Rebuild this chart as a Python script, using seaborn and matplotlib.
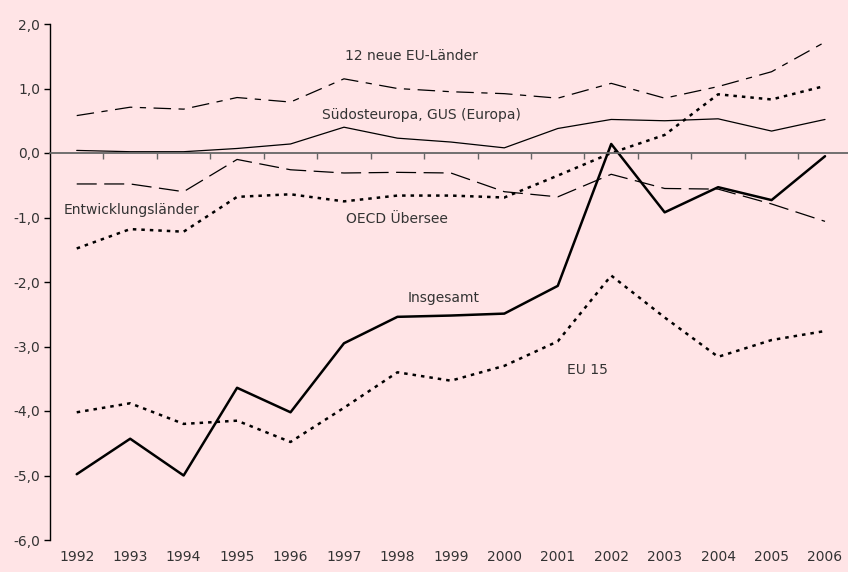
import numpy as np
import pandas as pd
import matplotlib
matplotlib.use("Agg")
import matplotlib.pyplot as plt
import seaborn as sns
from matplotlib.ticker import FuncFormatter, FixedLocator

# Jahre und Reihen
jahre = [str(j) for j in range(1992, 2007)]
insgesamt = [-4.98, -4.43, -5.0, -3.64, -4.02, -2.95, -2.54, -2.52, -2.49, -2.06, 0.14, -0.92, -0.53, -0.73, -0.05]
eu15 = [-4.02, -3.88, -4.2, -4.15, -4.48, -3.95, -3.4, -3.53, -3.3, -2.92, -1.9, -2.55, -3.16, -2.9, -2.76]
oecd = [-1.48, -1.18, -1.22, -0.68, -0.64, -0.75, -0.66, -0.66, -0.69, -0.35, 0.0, 0.28, 0.91, 0.83, 1.04]
neue_eu = [0.58, 0.71, 0.68, 0.86, 0.79, 1.15, 1.0, 0.95, 0.92, 0.85, 1.08, 0.85, 1.03, 1.26, 1.72]
suedost = [0.04, 0.02, 0.02, 0.07, 0.14, 0.4, 0.23, 0.17, 0.08, 0.38, 0.52, 0.5, 0.53, 0.34, 0.52]
entwicklung = [-0.48, -0.48, -0.6, -0.1, -0.26, -0.31, -0.3, -0.31, -0.6, -0.68, -0.33, -0.55, -0.56, -0.79, -1.06]

bg = '#FFE4E6'
txt = '#333333'

sns.set_style('white', {'axes.facecolor': bg, 'figure.facecolor': bg})
plt.rcParams['font.family'] = ['DejaVu Sans']

fig = plt.figure(figsize=(8.48, 5.72), dpi=100)
ax = fig.add_axes([50 / 848, 1 - 540 / 572, 1 - 50 / 848, 516 / 572])

x = np.arange(len(jahre))
reihen = [
    (insgesamt, dict(linewidth=1.8, linestyle='-')),
    (eu15, dict(linewidth=1.8, linestyle=(0, (1.4, 2.0)))),
    (oecd, dict(linewidth=1.8, linestyle=(0, (1.4, 2.0)))),
    (neue_eu, dict(linewidth=0.9, linestyle=(0, (14, 6, 5, 6)))),
    (suedost, dict(linewidth=0.9, linestyle='-')),
    (entwicklung, dict(linewidth=0.9, linestyle=(0, (16, 6)))),
]
for werte, stil in reihen:
    sns.lineplot(x=x, y=werte, ax=ax, color='black', **stil)

# Beschriftungen
ax.text(6.26, 1.5, '12 neue EU-Länder', ha='center', va='center', fontsize=10, color=txt)
ax.text(6.45, 0.59, 'Südosteuropa, GUS (Europa)', ha='center', va='center', fontsize=10, color=txt)
ax.text(1.03, -0.88, 'Entwicklungsländer', ha='center', va='center', fontsize=10, color=txt)
ax.text(5.99, -1.02, 'OECD Übersee', ha='center', va='center', fontsize=10, color=txt)
ax.text(6.86, -2.25, 'Insgesamt', ha='center', va='center', fontsize=10, color=txt)
ax.text(9.55, -3.36, 'EU 15', ha='center', va='center', fontsize=10, color=txt)

ax.set_xlim(-0.5, 14.43)
ax.set_ylim(-6, 2)
ax.set_yticks(np.arange(-6, 2.1, 1))
ax.yaxis.set_major_formatter(FuncFormatter(lambda v, p: f'{v:.1f}'.replace('.', ',')))
ax.tick_params(axis='y', left=True, direction='out', length=4, width=1, colors='black', labelcolor=txt, labelsize=10, pad=3)

# Nulllinie mit Teilstrichen zwischen den Jahren
ax.spines['bottom'].set_position(('data', 0))
ax.spines['bottom'].set_color('#666666')
ax.spines['bottom'].set_linewidth(1.3)
ax.spines['top'].set_visible(False)
ax.spines['right'].set_visible(False)
ax.spines['left'].set_color('black')
ax.spines['left'].set_linewidth(1.0)
ax.xaxis.set_major_locator(FixedLocator(np.arange(0.5, 14.0, 1)))
ax.tick_params(axis='x', bottom=True, direction='out', length=4, width=1, colors='#666666', labelbottom=False)

# Jahreszahlen unten
sec = ax.secondary_xaxis('bottom')
sec.set_xticks(x)
sec.set_xticklabels(jahre)
sec.spines['bottom'].set_visible(False)
sec.tick_params(length=0, labelsize=10, labelcolor=txt, pad=7)

fig.savefig('out.png', dpi=100, facecolor=bg)
